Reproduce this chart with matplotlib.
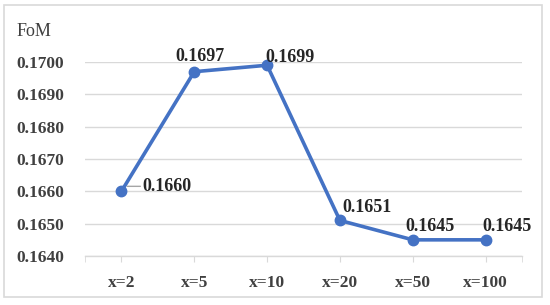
import matplotlib.pyplot as plt
from matplotlib.patches import Rectangle
from matplotlib.transforms import offset_copy

categories = ['x=2', 'x=5', 'x=10', 'x=20', 'x=50', 'x=100']
fom = [0.1660, 0.1697, 0.1699, 0.1651, 0.1645, 0.1645]
y_ticks = [0.1640, 0.1650, 0.1660, 0.1670, 0.1680, 0.1690, 0.1700]
# label offsets in pixels (dx, dy) relative to each point
label_offsets = [(21, 5), (6, 15), (23, 8), (27, 13), (17, 13), (21, 13)]

plt.rcParams['font.family'] = ['Liberation Serif', 'DejaVu Serif']

fig = plt.figure(figsize=(5.5, 3.05), dpi=100)
ax = fig.add_axes([85 / 550, 1 - 256 / 305, 437 / 550, 194 / 305])

# outer chart border
fig.patches.append(Rectangle((4 / 550, 1 - 297 / 305), 538 / 550, 292 / 305,
                             transform=fig.transFigure, fill=False,
                             edgecolor='#d9d9d9', linewidth=1.2))

xs = list(range(len(categories)))
ax.plot(xs, fom, color='#4472c4', linewidth=2.6, marker='o', markersize=7.5,
        clip_on=False, zorder=3)

for i, (v, off) in enumerate(zip(fom, label_offsets)):
    ha = 'left' if i == 0 else 'center'
    ax.annotate(f'{v:.4f}', (i, v), xytext=off, textcoords='offset pixels',
                ha=ha, va='center', fontsize=13, fontweight='bold',
                color='#262626')

# leader line for the first label
ax.annotate('', xy=(0, fom[0]),
            xycoords=offset_copy(ax.transData, fig, x=6, y=5, units='dots'),
            xytext=(0, fom[0]),
            textcoords=offset_copy(ax.transData, fig, x=19, y=5, units='dots'),
            arrowprops=dict(arrowstyle='-', color='#a6a6a6', lw=1,
                            shrinkA=0, shrinkB=0))

ax.set_xlim(-0.5, len(categories) - 0.5)
ax.set_ylim(0.1640, 0.1700)
ax.set_yticks(y_ticks)
ax.set_yticklabels([f'{t:.4f}' for t in y_ticks])
ax.set_xticks(xs)
ax.set_xticklabels(categories)
ax.set_xticks([-0.5, len(categories) - 0.5], minor=True)

ax.grid(axis='y', color='#d9d9d9', linewidth=1)
ax.set_axisbelow(True)
for s in ['top', 'right', 'left']:
    ax.spines[s].set_visible(False)
ax.spines['bottom'].set_color('#d9d9d9')
ax.spines['bottom'].set_linewidth(1)

ax.tick_params(axis='y', length=0, pad=15, labelsize=12.5, labelcolor='#404040')
ax.tick_params(axis='x', which='both', length=4, color='#d9d9d9', pad=10,
               labelsize=12.5, labelcolor='#404040')
for lab in ax.get_xticklabels() + ax.get_yticklabels():
    lab.set_fontweight('bold')

fig.text(17 / 550, 1 - 32 / 305, 'FoM', fontsize=13, color='#404040',
         va='center', ha='left')

fig.savefig('out.png', dpi=100)
